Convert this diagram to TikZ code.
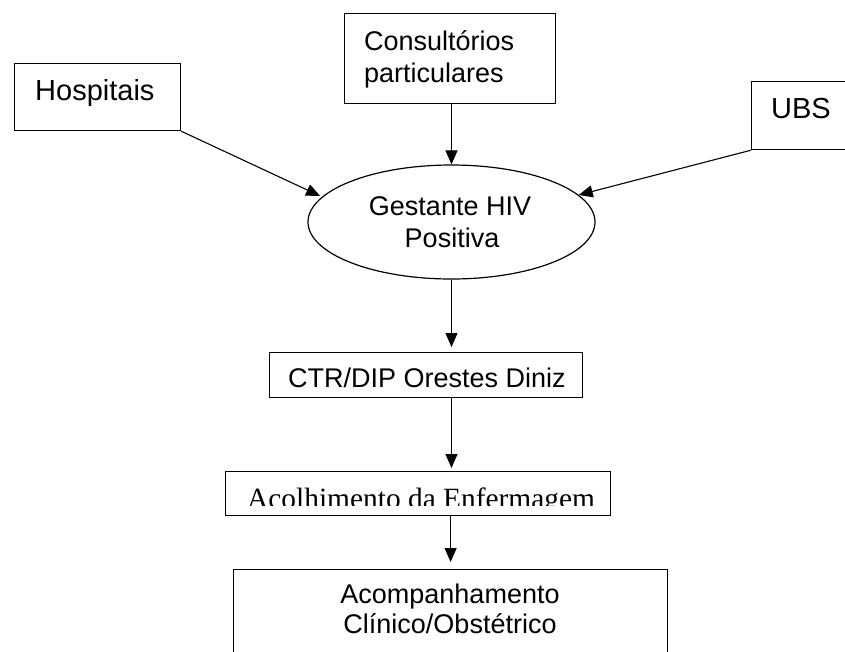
\documentclass[tikz,border=0pt]{standalone}
\usepackage{fontspec}
\setmainfont{Liberation Sans}
\newfontfamily\timesf{Liberation Serif}
\usetikzlibrary{arrows.meta,shapes.geometric}
\begin{document}
\begin{tikzpicture}[x=1pt,y=-1pt,
  box/.style={draw,line width=1.2pt,rectangle,inner sep=0pt,anchor=north west},
  txt/.style={inner sep=0pt,font=\fontsize{27}{31}\selectfont},
  bigtxt/.style={inner sep=0pt,font=\fontsize{29}{31}\selectfont},
  arr/.style={line width=1.1pt,-{Triangle[length=14pt,width=12pt]}}]
\useasboundingbox (0,0) rectangle (845,651);
% boxes
\node[box,minimum width=166pt,minimum height=67pt] (hosp) at (14,63) {};
\node[box,minimum width=211pt,minimum height=90pt] (cons) at (344,13) {};
\node[box,minimum width=110pt,minimum height=68pt] (ubs) at (751,81) {};
\node[draw,line width=1.2pt,ellipse,inner sep=0pt,minimum width=287pt,minimum height=114pt] (ell) at (451.5,222) {};
\node[box,minimum width=313pt,minimum height=45pt] (ctr) at (269,352) {};
\node[box,minimum width=385pt,minimum height=44pt] (acol) at (225,471) {};
\node[box,minimum width=434pt,minimum height=95pt] (acomp) at (233,569) {};
% texts
\node[bigtxt,anchor=base west] (hospT) at (35,100) {Hospitais};
\node[txt,anchor=base west] (consT1) at (364,50) {Consultórios};
\node[txt,anchor=base west] (consT2) at (364,82) {particulares};
\node[bigtxt,anchor=base west] (ubsT) at (771,118) {UBS};
\node[txt,anchor=base] (ellT1) at (450,215) {Gestante HIV};
\node[txt,anchor=base] (ellT2) at (452,247) {Positiva};
\node[txt,anchor=base west] (ctrT) at (288,387) {CTR/DIP Orestes Diniz};
\begin{scope}
\clip (225,471) rectangle (700,505);
\node[inner sep=0pt,anchor=base west,font=\timesf\fontsize{29.4}{31}\selectfont] (acolT) at (247,508) {Acolhimento da Enfermagem};
\end{scope}
\node[txt,anchor=base] (acompT1) at (450,603) {Acompanhamento};
\node[txt,anchor=base] (acompT2) at (450,633) {Clínico/Obstétrico};
% connectors
\draw[arr,shorten >=2pt] (hosp.south east) -- (ell.169);
\draw[arr] (ubs.south west) -- (ell.12);
\draw[arr] (ell.north |- cons.south) -- (ell.north);
\draw[arr,shorten >=5pt] (ell.south) -- (ell.south |- ctr.north);
\draw[arr,shorten >=3pt] (ell.south |- ctr.south) -- (ell.south |- acol.north);
\draw[arr,shorten >=7pt] (acol.south -| acomp.north) -- (acomp.north);
\end{tikzpicture}
\end{document}
